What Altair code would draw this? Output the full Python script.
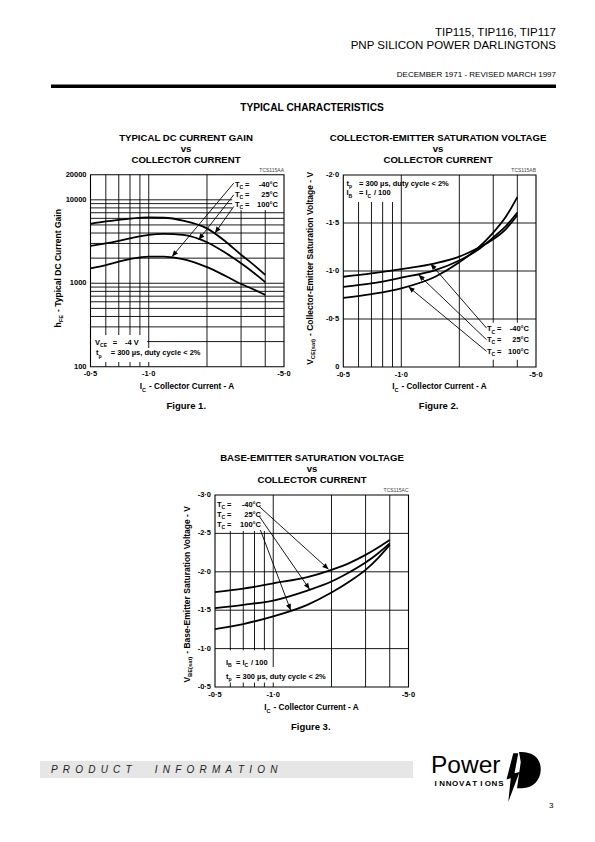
import math
import altair as alt
import pandas as pd

FONT = "Liberation Sans, Arial, Helvetica, sans-serif"
OFF = 8
W, H = 579, 826

# ---------------- data ----------------
# Figure 1 : typical DC current gain (hFE) vs collector current (A, magnitude)
ic1 = [0.5, 0.6, 0.7, 0.8, 1.0, 1.2, 1.5, 2.0, 2.5, 3.0, 3.5, 4.0]
hfe_100c = [5150, 5500, 5750, 5950, 6150, 6100, 5650, 4550, 3150, 2200, 1650, 1260]
hfe_25c = [2810, 3000, 3220, 3450, 3800, 3900, 3800, 3100, 2300, 1740, 1330, 1030]
hfe_m40c = [1510, 1650, 1820, 1950, 2090, 2080, 1950, 1560, 1220, 980, 840, 725]

# Figure 2 : VCE(sat) vs collector current
ic2 = [0.5, 0.7, 1.0, 1.5, 2.0, 2.5, 3.0, 3.5, 4.0]
vce_m40c = [-0.94, -0.975, -1.02, -1.08, -1.15, -1.24, -1.33, -1.44, -1.58]
vce_25c = [-0.835, -0.87, -0.93, -1.01, -1.11, -1.22, -1.35, -1.47, -1.61]
vce_100c = [-0.72, -0.76, -0.82, -0.94, -1.09, -1.24, -1.40, -1.57, -1.77]

# Figure 3 : VBE(sat) vs collector current
ic3 = [0.5, 0.7, 1.0, 1.5, 2.0, 2.5, 3.0, 3.5, 4.0]
vbe_m40c = [-1.735, -1.78, -1.85, -1.93, -2.025, -2.12, -2.22, -2.32, -2.415]
vbe_25c = [-1.527, -1.57, -1.626, -1.756, -1.873, -2.0, -2.12, -2.245, -2.37]
vbe_100c = [-1.254, -1.32, -1.42, -1.57, -1.73, -1.88, -2.025, -2.185, -2.35]

temps = ["-40°C", "25°C", "100°C"]

x_grid = [0.6, 0.7, 0.8, 0.9, 1.0, 2.0, 3.0, 4.0]
x_ticks = [0.5, 1.0, 5.0]
y1_grid = [200, 300, 400, 500, 600, 700, 800, 900, 1000, 2000, 3000, 4000,
           5000, 6000, 7000, 8000, 9000, 10000]
y1_ticks = [100, 1000, 10000, 20000]
y2_grid = [-0.5, -1.0, -1.5]
y2_ticks = [0, -0.5, -1.0, -1.5, -2.0]
y3_grid = [-1.0, -1.5, -2.0, -2.5]
y3_ticks = [-0.5, -1.0, -1.5, -2.0, -2.5, -3.0]

# annotation arrows (label -> curve), in data units, order -40, 25, 100 degC
arr1 = dict(x_s=[2.75, 2.75, 2.75], y_s=[15850, 11480, 8320],
            x_e=[1.32, 1.81, 2.2], y_e=[2090, 3330, 4000])
arr2 = dict(x_s=[2.77, 2.77, 2.77], y_s=[-0.405, -0.284, -0.163],
            x_e=[1.42, 1.23, 1.09], y_e=[-1.075, -0.96, -0.835])
arr3 = dict(x_s=[0.849, 0.849, 0.858], y_s=[-2.848, -2.718, -2.545],
            x_e=[1.93, 1.54, 1.23], y_e=[-2.034, -1.774, -1.50])

# white label backgrounds, data units
box1 = dict(x0=[2.7, 0.5, 0.5], x1=[5.0, 0.98, 1.97],
            y0=[7550, 167, 114], y1=[20000, 240, 167])
box2 = dict(x0=[0.5, 2.72], x1=[0.98, 5.0], y0=[-2.0, -0.46], y1=[-1.72, -0.075])
box3 = dict(x0=[0.5, 0.5, 0.5], x1=[0.95, 0.98, 1.97],
            y0=[-3.0, -0.98, -0.76], y1=[-2.53, -0.76, -0.56])

# plot frames on the page (left, top, right, bottom) in px
F1 = (90.5, 174.7, 284.0, 366.7)
F2 = (343.3, 175.0, 536.0, 367.0)
F3 = (215.0, 495.0, 408.5, 687.0)

# ---------------- helpers ----------------
AB = {' ': 278, '-': 333, '·': 278, '.': 278, ',': 278, '/': 278, '(': 333, ')': 333,
      '=': 584, '<': 584, '%': 889, '°': 400, 'µ': 611,
      'A': 722, 'B': 722, 'C': 722, 'D': 722, 'E': 667, 'F': 611, 'G': 778, 'H': 722,
      'I': 278, 'L': 611, 'M': 833, 'N': 722, 'O': 778, 'P': 667, 'R': 722, 'S': 667,
      'T': 611, 'U': 722, 'V': 667, 'W': 944, 'Y': 667,
      'a': 556, 'b': 611, 'c': 556, 'd': 611, 'e': 556, 'g': 611, 'h': 611, 'i': 278,
      'l': 278, 'm': 889, 'n': 611, 'o': 611, 'p': 611, 'r': 389, 's': 556, 't': 333,
      'u': 611, 'y': 556, 'v': 556}
for d in '0123456789':
    AB[d] = 556


def tw(s, size):
    return sum(AB.get(c, 600) for c in s) * size / 1000.0


def P(v):
    return v - OFF


def text(s, x, y, size=7.5, weight='bold', align='left', angle=0, dx=0, dy=0,
         font=FONT, color='black', style='normal'):
    return alt.Chart(pd.DataFrame({'t': [s]})).mark_text(
        align=align, baseline='middle', fontSize=size, fontWeight=weight, font=font,
        angle=angle, dx=dx, dy=dy, color=color, fontStyle=style
    ).encode(x=alt.value(P(x)), y=alt.value(P(y)), text='t:N')


def rich(parts, x, y, size=7.5, align='left', angle=0, weight='bold'):
    """Text with subscripts: each piece is a separate text mark shifted along the line."""
    sizes = [size * 0.68 if sub else size for _, sub in parts]
    widths = [tw(s, sz) + (0.6 if sub else 0) for (s, sub), sz in zip(parts, sizes)]
    total = sum(widths)
    cum = 0 if align == 'left' else (-total / 2 if align == 'center' else -total)
    out = []
    for (s, sub), sz, w in zip(parts, sizes, widths):
        body = s.lstrip(' ')
        lead = tw(s[:len(s) - len(body)], sz)  # leading blanks are trimmed by the renderer
        out.append(text(body, x, y, size=sz, weight=weight, angle=angle, dx=cum + lead,
                        dy=size * 0.33 if sub else 0))
        cum += w
    return out


def lab_fmt(v):
    if v == 0:
        return "0"
    if abs(v) >= 100:
        return str(int(v))
    return "-" + f"{abs(v):.1f}".replace(".", "·")


def px_of(F, xv):
    return F[0] + (F[2] - F[0]) * math.log10(xv / 0.5)


def subplot(F, ys, ydom, ylog, yticks, curves, grid_h, boxes, arrows):
    xs = alt.Scale(type='log', domain=[0.5, 5], range=[P(F[0]), P(F[2])], nice=False)
    X = lambda f: alt.X(f, scale=xs, axis=None)
    Y = lambda f: alt.Y(f, scale=ys, axis=None)

    def py_of(v):
        if ylog:
            t = math.log10(v / ydom[0]) / math.log10(ydom[1] / ydom[0])
        else:
            t = (v - ydom[0]) / (ydom[1] - ydom[0])
        return F[3] + (F[1] - F[3]) * t

    vg = pd.DataFrame({'x': x_grid, 'y0': ydom[0], 'y1': ydom[1]})
    hg = pd.DataFrame({'y': grid_h, 'x0': 0.5, 'x1': 5.0})
    vgrid = alt.Chart(vg).mark_rule(color='black', strokeWidth=0.9).encode(
        x=X('x:Q'), y=Y('y0:Q'), y2='y1:Q')
    hgrid = alt.Chart(hg).mark_rule(color='black', strokeWidth=0.9).encode(
        x=X('x0:Q'), x2='x1:Q', y=Y('y:Q'))
    bx = alt.Chart(pd.DataFrame(boxes)).mark_rect(color='white').encode(
        x=X('x0:Q'), x2='x1:Q', y=Y('y0:Q'), y2='y1:Q')
    lines = alt.Chart(curves).mark_line(color='black', strokeWidth=1.8,
                                        interpolate='monotone').encode(
        x=X('I:Q'), y=Y('V:Q'), detail='T:N')
    adf = pd.DataFrame(arrows)
    angs = []
    for a, b, c, d in zip(adf['x_s'], adf['y_s'], adf['x_e'], adf['y_e']):
        ddx = px_of(F, c) - px_of(F, a)
        ddy = py_of(d) - py_of(b)
        angs.append(math.degrees(math.atan2(ddx, -ddy)) % 360)
    adf['ang'] = angs
    arules = alt.Chart(adf).mark_rule(color='black', strokeWidth=0.9).encode(
        x=X('x_s:Q'), y=Y('y_s:Q'), x2='x_e:Q', y2='y_e:Q')
    heads = alt.Chart(adf).mark_point(shape='M0,0 L-0.42,1 L0.42,1 Z', filled=True,
                                      color='black', opacity=1, size=150).encode(
        x=X('x_e:Q'), y=Y('y_e:Q'), angle=alt.Angle('ang:Q', scale=None))
    frame = alt.Chart(pd.DataFrame({'x0': [0.5], 'x1': [5.0], 'y0': [ydom[0]],
                                    'y1': [ydom[1]]})).mark_rect(
        fillOpacity=0, stroke='black', strokeWidth=1.1).encode(
        x=X('x0:Q'), x2='x1:Q', y=Y('y0:Q'), y2='y1:Q')
    # tick labels positioned through the scales
    xl = pd.DataFrame({'v': x_ticks, 'lab': [lab_fmt(-v) for v in x_ticks]})
    xlab = alt.Chart(xl).mark_text(baseline='top', fontSize=7.5, fontWeight='bold',
                                   font=FONT, color='black').encode(
        x=X('v:Q'), y=alt.value(P(F[3] + 3.5)), text='lab:N')
    yl = pd.DataFrame({'v': yticks, 'lab': [lab_fmt(v) for v in yticks]})
    ylab = alt.Chart(yl).mark_text(align='right', baseline='middle', fontSize=7.5,
                                   fontWeight='bold', font=FONT, color='black').encode(
        y=Y('v:Q'), x=alt.value(P(F[0] - 4)), text='lab:N')
    return alt.layer(vgrid, hgrid, bx, lines, arules, heads, frame, xlab, ylab)


def long_df(ic, series):
    rows = []
    for name, vals in zip(temps, series):
        for i, v in zip(ic, vals):
            rows.append({'I': i, 'V': v, 'T': name})
    return pd.DataFrame(rows)


# ---------------- subplots ----------------
ys1 = alt.Scale(type='log', domain=[100, 20000], range=[P(F1[3]), P(F1[1])], nice=False)
ys2 = alt.Scale(type='linear', domain=[0, -2.0], range=[P(F2[3]), P(F2[1])], nice=False, zero=False)
ys3 = alt.Scale(type='linear', domain=[-0.5, -3.0], range=[P(F3[3]), P(F3[1])], nice=False, zero=False)

sp1 = subplot(F1, ys1, [100, 20000], True, y1_ticks,
              long_df(ic1, [hfe_m40c, hfe_25c, hfe_100c]), y1_grid, box1, arr1)
sp2 = subplot(F2, ys2, [0, -2.0], False, y2_ticks,
              long_df(ic2, [vce_m40c, vce_25c, vce_100c]), y2_grid, box2, arr2)
sp3 = subplot(F3, ys3, [-0.5, -3.0], False, y3_ticks,
              long_df(ic3, [vbe_m40c, vbe_25c, vbe_100c]), y3_grid, box3, arr3)

layers = [sp1, sp2, sp3]

# ---------------- header ----------------
layers.append(text("TIP115, TIP116, TIP117", 556, 32.5, size=11.5, weight='normal', align='right'))
layers.append(text("PNP SILICON POWER DARLINGTONS", 556, 46, size=11.5, weight='normal', align='right'))
layers.append(text("DECEMBER 1971 - REVISED MARCH 1997", 556, 75, size=8.0, weight='normal', align='right'))
layers.append(alt.Chart(pd.DataFrame({'a': [0]})).mark_rect(color='black').encode(
    x=alt.value(P(51)), x2=alt.value(P(556)), y=alt.value(P(84.5)), y2=alt.value(P(88))))
layers.append(text("TYPICAL CHARACTERISTICS", 312, 108, size=10.2, align='center'))

# chart titles
for (t1, cx, ty) in [("TYPICAL DC CURRENT GAIN", 186, 138),
                     ("COLLECTOR-EMITTER SATURATION VOLTAGE", 438, 138),
                     ("BASE-EMITTER SATURATION VOLTAGE", 312, 458)]:
    layers.append(text(t1, cx, ty, size=9.6, align='center'))
    layers.append(text("vs", cx, ty + 11, size=9.6, align='center'))
    layers.append(text("COLLECTOR CURRENT", cx, ty + 22, size=9.6, align='center'))

for (code, F, yy) in [("TCS115AA", F1, 169.5), ("TCS115AB", F2, 169.5), ("TCS115AC", F3, 489.5)]:
    layers.append(text(code, F[2], yy, size=5, weight='normal', align='right', color='#444444'))

# x-axis titles and figure captions
for F, fy, fig in [(F1, 387, "Figure 1."), (F2, 387, "Figure 2."), (F3, 708, "Figure 3.")]:
    cx = (F[0] + F[2]) / 2
    layers += rich([("I", 0), ("C", 1), (" - Collector Current - A", 0)], cx, fy, size=8.2, align='center')
    layers.append(text(fig, cx - 1, fy + 19, size=9.5, align='center'))

# y-axis titles (rotated)
layers += rich([("h", 0), ("FE", 1), (" - Typical DC Current Gain", 0)], 58, 268,
               size=8.5, align='center', angle=270)
layers += rich([("V", 0), ("CE(sat)", 1), (" - Collector-Emitter Saturation Voltage - V", 0)],
               310, 268, size=8.5, align='center', angle=270)
layers += rich([("V", 0), ("BE(sat)", 1), (" - Base-Emitter Saturation Voltage - V", 0)],
               187, 594, size=8.5, align='center', angle=270)


# temperature legends
def tc_labels(x0, ys, eqdx, enddx):
    out = []
    for lab, y in zip(temps, ys):
        out += rich([("T", 0), ("C", 1)], x0, y)
        out.append(text("=", x0 + eqdx, y))
        out.append(text(lab, x0 + enddx, y, align='right'))
    return out


layers += tc_labels(235, [185, 195, 205], 10, 43)
layers += tc_labels(487, [329.3, 340, 351.7], 10, 42)
layers += tc_labels(217, [505, 515, 525], 10, 44)

# condition notes
layers += rich([("V", 0), ("CE", 1)], 95, 342.7)
layers.append(text("=", 112.7, 342.7))
layers.append(text("-4 V", 125, 342.7))
layers += rich([("t", 0), ("p", 1)], 96, 353.3)
layers.append(text("= 300 µs, duty cycle < 2%", 110.7, 353.3))

layers += rich([("t", 0), ("p", 1)], 346.5, 184)
layers.append(text("= 300 µs, duty cycle < 2%", 359, 184))
layers += rich([("I", 0), ("B", 1)], 346.5, 193.3)
layers += rich([("= I", 0), ("C", 1), (" / 100", 0)], 359, 193.3)

layers += rich([("I", 0), ("B", 1)], 226, 663)
layers += rich([("= I", 0), ("C", 1), (" / 100", 0)], 236, 663)
layers += rich([("t", 0), ("p", 1)], 226, 676.5)
layers.append(text("= 300 µs, duty cycle < 2%", 236, 676.5))

# ---------------- footer ----------------
layers.append(alt.Chart(pd.DataFrame({'a': [0]})).mark_rect(color='#e6e6e6').encode(
    x=alt.value(P(40)), x2=alt.value(P(413)), y=alt.value(P(761)), y2=alt.value(P(778))))
xx = 51.0
for word in ["PRODUCT", "INFORMATION"]:
    for ch in word:
        layers.append(text(ch, xx, 769.5, size=10, weight='normal', style='italic', color='#222222'))
        xx += tw(ch, 10) + 5.2
    xx += 18
layers.append(text("Power", 431, 766, size=24.5, weight='normal', color='black'))
for i, ch in enumerate("INNOVATIONS"):
    layers.append(text(ch, 435.5 + i * 6.55, 783.5, size=8, weight='bold', align='center'))
logo_path = ("M -0.05 -1 C 0.55 -1 0.75 -0.65 0.75 -0.3 C 0.75 0.1 0.45 0.45 0 0.45 "
             "L -0.2 0.45 L -0.05 -0.6 L -0.12 -1 Z "
             "M -0.35 -0.95 L -0.15 -0.95 L -0.3 -0.15 L -0.1 -0.2 L -0.55 1.0 "
             "L -0.45 0.05 L -0.62 0.1 Z")
layers.append(alt.Chart(pd.DataFrame({'a': [0]})).mark_point(
    shape=logo_path, filled=True, color='black', opacity=1, size=2500).encode(
    x=alt.value(P(522)), y=alt.value(P(777))))
layers.append(text("3", 549, 806, size=8, weight='normal'))

chart = alt.layer(*layers).resolve_scale(x='independent', y='independent').properties(
    width=W, height=H, padding=0, autosize=alt.AutoSizeParams(type='none')
).configure_view(strokeWidth=0)

chart.save("out.html", embed_options={"renderer": "svg", "actions": False})
